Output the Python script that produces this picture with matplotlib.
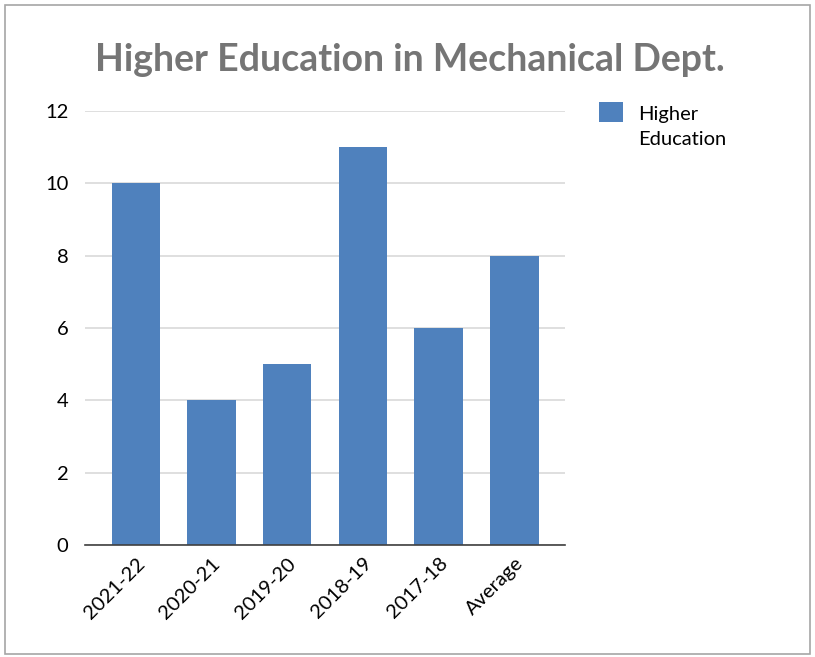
import matplotlib
matplotlib.use("Agg")
import matplotlib.pyplot as plt
from matplotlib.patches import Rectangle
from matplotlib.legend_handler import HandlerPatch

# data
years = ["2021-22", "2020-21", "2019-20", "2018-19", "2017-18", "Average"]
higher_edu = [10, 4, 5, 11, 6, 8]
yticks = [0, 2, 4, 6, 8, 10, 12]
series_name = "Higher\nEducation"

plt.rcParams['font.family'] = ['Lato', 'DejaVu Sans']


def top_square(legend, orig_handle, xdescent, ydescent, width, height, fontsize):
    # keep the legend square level with the first line of the label
    return Rectangle((-xdescent, -ydescent + 10.5), width, height)


fig = plt.figure(figsize=(8.15, 6.57), dpi=100)
ax = fig.add_axes([0.1043, 0.1705, 0.589, 0.6606])

bars = ax.bar(range(len(years)), higher_edu, width=0.64, color="#4F81BD", zorder=3)

ax.set_xlim(-0.67, len(years) - 0.33)
ax.set_ylim(0, 12)
ax.set_yticks(yticks)
ax.set_xticks(range(len(years)))
ax.set_xticklabels(years, rotation=45, ha="right", rotation_mode="anchor",
                   fontsize=14.5, color="#000000")
ax.tick_params(axis="y", labelsize=14.5, length=0, pad=12)
ax.tick_params(axis="x", length=0, pad=7)
ax.yaxis.grid(True, color="#D9D9D9", linewidth=1.2, zorder=0)
for s in ["top", "right", "left"]:
    ax.spines[s].set_visible(False)
ax.spines["bottom"].set_color("#404040")
ax.spines["bottom"].set_linewidth(1.2)
ax.spines["bottom"].set_zorder(4)

fig.text(0.503, 0.909, "Higher Education in Mechanical Dept.", ha="center",
         va="center", fontsize=27, fontweight="bold", color="#757575")

leg = ax.legend([bars[0]], [series_name], loc="upper left",
                bbox_to_anchor=(1.055, 1.03), frameon=False,
                fontsize=14.5, handlelength=1.15, handleheight=1.15,
                handletextpad=0.75, borderaxespad=0,
                handler_map={Rectangle: HandlerPatch(patch_func=top_square)})
for t in leg.get_texts():
    t.set_linespacing(1.55)

fig.patches.append(Rectangle((0.006, 0.004), 0.988, 0.988, transform=fig.transFigure,
                             fill=False, edgecolor="#A6A6A6", linewidth=1.2))

fig.savefig("out.png", dpi=100)
